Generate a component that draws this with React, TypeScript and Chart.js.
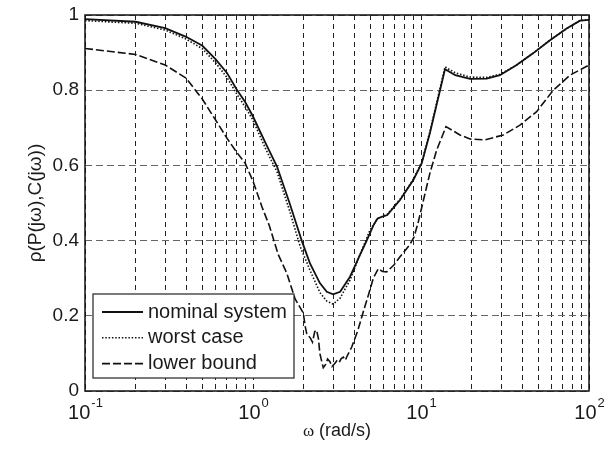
import React, { useEffect, useRef } from "react";
import { Chart, registerables } from "chart.js";

Chart.register(...registerables);

// ---------- data ----------
const nominalOmega = [0.1, 0.2, 0.3, 0.4, 0.5, 0.6, 0.7, 0.8, 0.9, 1.0, 1.2, 1.39, 1.65, 1.95, 2.18, 2.5, 2.75, 3.0, 3.3, 3.78, 4.28, 4.75, 5.2, 5.5, 5.9, 6.3, 7.5, 9.0, 10.1, 11.3, 13.9, 16, 19.6, 24.6, 29.5, 37.1, 46.4, 58.6, 73.6, 88.4, 100];
const nominalValues = [0.989, 0.982, 0.965, 0.942, 0.918, 0.882, 0.846, 0.802, 0.768, 0.73, 0.655, 0.597, 0.5, 0.4, 0.34, 0.287, 0.264, 0.257, 0.264, 0.304, 0.357, 0.4, 0.44, 0.458, 0.464, 0.468, 0.508, 0.561, 0.606, 0.686, 0.856, 0.84, 0.83, 0.831, 0.84, 0.867, 0.898, 0.933, 0.964, 0.985, 0.987];

const worstOmega = [0.1, 0.2, 0.3, 0.4, 0.5, 0.6, 0.7, 0.8, 0.9, 1.0, 1.2, 1.39, 1.65, 1.91, 2.18, 2.5, 2.75, 3.0, 3.3, 3.78, 4.28, 4.97, 5.5, 5.9, 6.3, 7.5, 9.0, 10.1, 11.3, 13.9, 16, 19.6, 24.6, 29.5, 37.1, 46.4, 58.6, 73.6, 88.4, 100];
const worstValues = [0.985, 0.978, 0.96, 0.936, 0.91, 0.872, 0.834, 0.79, 0.755, 0.72, 0.64, 0.583, 0.48, 0.384, 0.322, 0.262, 0.239, 0.231, 0.247, 0.295, 0.357, 0.428, 0.458, 0.465, 0.47, 0.51, 0.563, 0.608, 0.69, 0.862, 0.846, 0.835, 0.834, 0.842, 0.867, 0.898, 0.933, 0.964, 0.985, 0.987];

const lowerOmega = [0.1, 0.2, 0.3, 0.4, 0.5, 0.6, 0.71, 0.8, 0.9, 1.0, 1.13, 1.25, 1.41, 1.59, 1.78, 1.99, 2.05, 2.09, 2.15, 2.2, 2.26, 2.33, 2.39, 2.45, 2.5, 2.56, 2.62, 2.7, 2.78, 2.87, 2.95, 3.05, 3.15, 3.25, 3.35, 3.45, 3.55, 3.65, 3.87, 4.2, 4.53, 4.9, 5.2, 5.57, 5.9, 6.25, 6.9, 7.5, 8.6, 9.1, 9.64, 10.5, 11.31, 12.4, 14.09, 17.06, 19.58, 24.06, 30.9, 38.8, 48.8, 61.3, 77.1, 100];
const lowerValues = [0.911, 0.895, 0.867, 0.832, 0.776, 0.72, 0.668, 0.635, 0.605, 0.558, 0.49, 0.44, 0.364, 0.313, 0.245, 0.208, 0.17, 0.152, 0.146, 0.14, 0.13, 0.158, 0.162, 0.14, 0.1, 0.08, 0.062, 0.07, 0.085, 0.078, 0.065, 0.072, 0.08, 0.075, 0.086, 0.09, 0.082, 0.095, 0.117, 0.16, 0.21, 0.26, 0.3, 0.325, 0.318, 0.317, 0.335, 0.357, 0.39, 0.41, 0.45, 0.52, 0.58, 0.641, 0.703, 0.681, 0.67, 0.668, 0.681, 0.707, 0.743, 0.8, 0.84, 0.867];

const seriesLabels = ["nominal system", "worst case", "lower bound"];

const xGridValues = [0.1, 0.2, 0.3, 0.4, 0.5, 0.6, 0.7, 0.8, 0.9, 1, 2, 3, 4, 5, 6, 7, 8, 9, 10, 20, 30, 40, 50, 60, 70, 80, 90, 100];
const xMajorValues = [0.1, 1, 10, 100];
const xTickExponents = ["-1", "0", "1", "2"];
const yTickValues = [0, 0.2, 0.4, 0.6, 0.8, 1];
const yTickLabels = ["0", "0.2", "0.4", "0.6", "0.8", "1"];

const xTitleSymbol = "\u03c9";
const xTitleRest = " (rad/s)";
const yTitle = "\u03c1(P(j\u03c9),C(j\u03c9))";

// ---------- styling ----------
const FONT = '"Liberation Sans", Arial, Helvetica, sans-serif';
const SERIF = '"Liberation Serif", "DejaVu Serif", serif';
const TEXT = "#1a1a1a";

const toPoints = (xs: number[], ys: number[]) => xs.map((x, i) => ({ x, y: ys[i] }));

const decorPlugin = {
  id: "decor",
  afterDatasetsDraw(chart: any) {
    const { ctx, chartArea: a, scales } = chart;
    const x = scales.x;
    const y = scales.y;
    ctx.save();
    ctx.setLineDash([]);
    // axes box
    ctx.strokeStyle = "#111";
    ctx.lineWidth = 1.5;
    ctx.strokeRect(a.left, a.top, a.right - a.left, a.bottom - a.top);

    // y tick labels
    ctx.fillStyle = TEXT;
    ctx.font = `19px ${FONT}`;
    ctx.textAlign = "right";
    ctx.textBaseline = "middle";
    yTickValues.forEach((v, i) => {
      ctx.fillText(yTickLabels[i], a.left - 6, y.getPixelForValue(v));
    });

    // x tick labels 10^n
    ctx.textAlign = "left";
    ctx.textBaseline = "alphabetic";
    xMajorValues.forEach((v, i) => {
      const px = x.getPixelForValue(v);
      ctx.font = `20px ${FONT}`;
      const wb = ctx.measureText("10").width;
      ctx.font = `13px ${FONT}`;
      const we = ctx.measureText(xTickExponents[i]).width;
      const start = px - (wb + we) / 2;
      ctx.font = `20px ${FONT}`;
      ctx.fillText("10", start, a.bottom + 28);
      ctx.font = `13px ${FONT}`;
      ctx.fillText(xTickExponents[i], start + wb + 1, a.bottom + 16);
    });

    // x title (serif omega + sans text)
    ctx.font = `17px ${SERIF}`;
    const w1 = ctx.measureText(xTitleSymbol).width;
    ctx.font = `18px ${FONT}`;
    const w2 = ctx.measureText(xTitleRest).width;
    const tx = (a.left + a.right) / 2 - (w1 + w2) / 2;
    ctx.textAlign = "left";
    ctx.font = `17px ${SERIF}`;
    ctx.fillText(xTitleSymbol, tx, a.bottom + 45);
    ctx.font = `18px ${FONT}`;
    ctx.fillText(xTitleRest, tx + w1, a.bottom + 45);

    // y title
    ctx.save();
    ctx.translate(36, (a.top + a.bottom) / 2);
    ctx.rotate(-Math.PI / 2);
    ctx.textAlign = "center";
    ctx.textBaseline = "middle";
    ctx.font = `19px ${FONT}`;
    ctx.fillText(yTitle, 0, 0);
    ctx.restore();

    // legend
    const bx = a.left + 8;
    const by = a.bottom - 97;
    const bw = 201;
    const bh = 84;
    ctx.fillStyle = "#fff";
    ctx.fillRect(bx, by, bw, bh);
    ctx.strokeStyle = "#222";
    ctx.lineWidth = 1.2;
    ctx.strokeRect(bx, by, bw, bh);
    chart.data.datasets.forEach((ds: any, i: number) => {
      const ry = by + 18 + i * 25.8;
      ctx.save();
      ctx.strokeStyle = ds.borderColor;
      ctx.lineWidth = ds.borderWidth;
      ctx.setLineDash(ds.borderDash || []);
      ctx.beginPath();
      ctx.moveTo(bx + 9, ry);
      ctx.lineTo(bx + 50, ry);
      ctx.stroke();
      ctx.restore();
      ctx.fillStyle = TEXT;
      ctx.font = `20px ${FONT}`;
      ctx.textAlign = "left";
      ctx.textBaseline = "middle";
      ctx.fillText(ds.label, bx + 55, ry);
    });
    ctx.restore();
  },
};

export default function App() {
  const ref = useRef<HTMLCanvasElement | null>(null);
  useEffect(() => {
    if (!ref.current) return;
    const chart = new Chart(ref.current, {
      type: "line",
      data: {
        datasets: [
          {
            label: seriesLabels[0],
            data: toPoints(nominalOmega, nominalValues),
            borderColor: "#111",
            borderWidth: 1.8,
            borderDash: [],
            pointRadius: 0,
            tension: 0,
          },
          {
            label: seriesLabels[1],
            data: toPoints(worstOmega, worstValues),
            borderColor: "#111",
            borderWidth: 1.6,
            borderDash: [1.5, 1.8],
            pointRadius: 0,
            tension: 0,
          },
          {
            label: seriesLabels[2],
            data: toPoints(lowerOmega, lowerValues),
            borderColor: "#111",
            borderWidth: 1.6,
            borderDash: [8, 3],
            pointRadius: 0,
            tension: 0,
          },
        ],
      },
      options: {
        animation: false,
        responsive: false,
        devicePixelRatio: 1,
        layout: { padding: { left: 85, top: 15, right: 24, bottom: 59 } },
        plugins: { legend: { display: false }, tooltip: { enabled: false } },
        scales: {
          x: {
            type: "logarithmic",
            min: 0.1,
            max: 100,
            afterBuildTicks: (scale: any) => {
              scale.ticks = xGridValues.map((v) => ({ value: v }));
            },
            ticks: { display: false },
            grid: { color: "#222", lineWidth: 1, drawTicks: false },
            border: { display: false, dash: [5, 4] },
          },
          y: {
            type: "linear",
            min: 0,
            max: 1,
            afterBuildTicks: (scale: any) => {
              scale.ticks = yTickValues.map((v) => ({ value: v }));
            },
            ticks: { display: false },
            grid: { color: "#666", lineWidth: 1, drawTicks: false },
            border: { display: false, dash: [7, 4] },
          },
        },
      },
      plugins: [decorPlugin],
    });
    return () => chart.destroy();
  }, []);
  return (
    <div style={{ position: "fixed", left: 0, top: 0, width: 613, height: 450, background: "#fff" }}>
      <canvas ref={ref} width={613} height={450} style={{ width: 613, height: 450 }} />
    </div>
  );
}
